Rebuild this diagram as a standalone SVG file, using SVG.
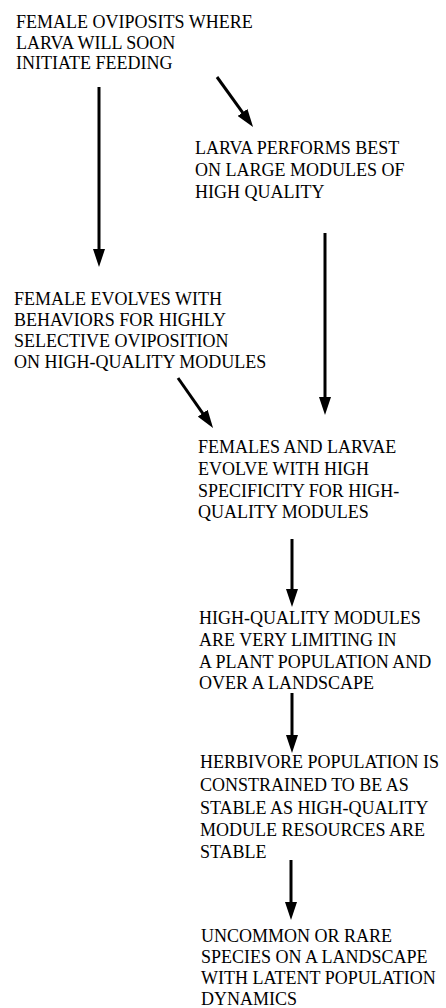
<svg xmlns="http://www.w3.org/2000/svg" width="446" height="1008" viewBox="0 0 446 1008">
<style>
  .lbl { font-family: "Liberation Serif", "Times New Roman", Times, serif; font-size: 18px; fill: #000; }
  .conn line { stroke: #000; stroke-width: 3; marker-end: url(#ah); }
</style>
<defs>
  <marker id="ah" markerUnits="userSpaceOnUse" markerWidth="18" markerHeight="12" refX="8" refY="6" orient="auto">
    <path d="M0,0 L18,6 L0,12 z" fill="#000"/>
  </marker>
</defs>
<rect width="446" height="1008" fill="#fff"/>
<g id="n1"><text class="lbl"><tspan x="16" y="28">FEMALE OVIPOSITS WHERE</tspan><tspan x="16" y="48.5">LARVA WILL SOON</tspan><tspan x="16" y="69">INITIATE FEEDING</tspan></text></g>
<g id="n2"><text class="lbl"><tspan x="195" y="154">LARVA PERFORMS BEST</tspan><tspan x="195" y="176">ON LARGE MODULES OF</tspan><tspan x="195" y="198">HIGH QUALITY</tspan></text></g>
<g id="n3"><text class="lbl"><tspan x="14" y="305">FEMALE EVOLVES WITH</tspan><tspan x="14" y="326">BEHAVIORS FOR HIGHLY</tspan><tspan x="14" y="347">SELECTIVE OVIPOSITION</tspan><tspan x="14" y="368">ON HIGH-QUALITY MODULES</tspan></text></g>
<g id="n4"><text class="lbl"><tspan x="198" y="453">FEMALES AND LARVAE</tspan><tspan x="198" y="475">EVOLVE WITH HIGH</tspan><tspan x="198" y="497">SPECIFICITY FOR HIGH-</tspan><tspan x="198" y="518">QUALITY MODULES</tspan></text></g>
<g id="n5"><text class="lbl"><tspan x="199" y="624">HIGH-QUALITY MODULES</tspan><tspan x="199" y="646">ARE VERY LIMITING IN</tspan><tspan x="199" y="668">A PLANT POPULATION AND</tspan><tspan x="199" y="689">OVER A LANDSCAPE</tspan></text></g>
<g id="n6"><text class="lbl"><tspan x="200" y="768">HERBIVORE POPULATION IS</tspan><tspan x="200" y="791">CONSTRAINED TO BE AS</tspan><tspan x="200" y="814">STABLE AS HIGH-QUALITY</tspan><tspan x="200" y="836">MODULE RESOURCES ARE</tspan><tspan x="200" y="858">STABLE</tspan></text></g>
<g id="n7"><text class="lbl"><tspan x="201" y="942">UNCOMMON OR RARE</tspan><tspan x="201" y="963">SPECIES ON A LANDSCAPE</tspan><tspan x="201" y="984">WITH LATENT POPULATION</tspan><tspan x="201" y="1005">DYNAMICS</tspan></text></g>
<g id="connectors" class="conn">
  <line x1="99" y1="87" x2="99" y2="257"/>
  <line x1="217" y1="77" x2="247.2" y2="118.9"/>
  <line x1="325" y1="233" x2="325" y2="405"/>
  <line x1="178" y1="378" x2="207.3" y2="419.8"/>
  <line x1="292" y1="539" x2="292" y2="597"/>
  <line x1="292" y1="693" x2="292" y2="743"/>
  <line x1="291" y1="860" x2="291" y2="910"/>
</g>
</svg>
